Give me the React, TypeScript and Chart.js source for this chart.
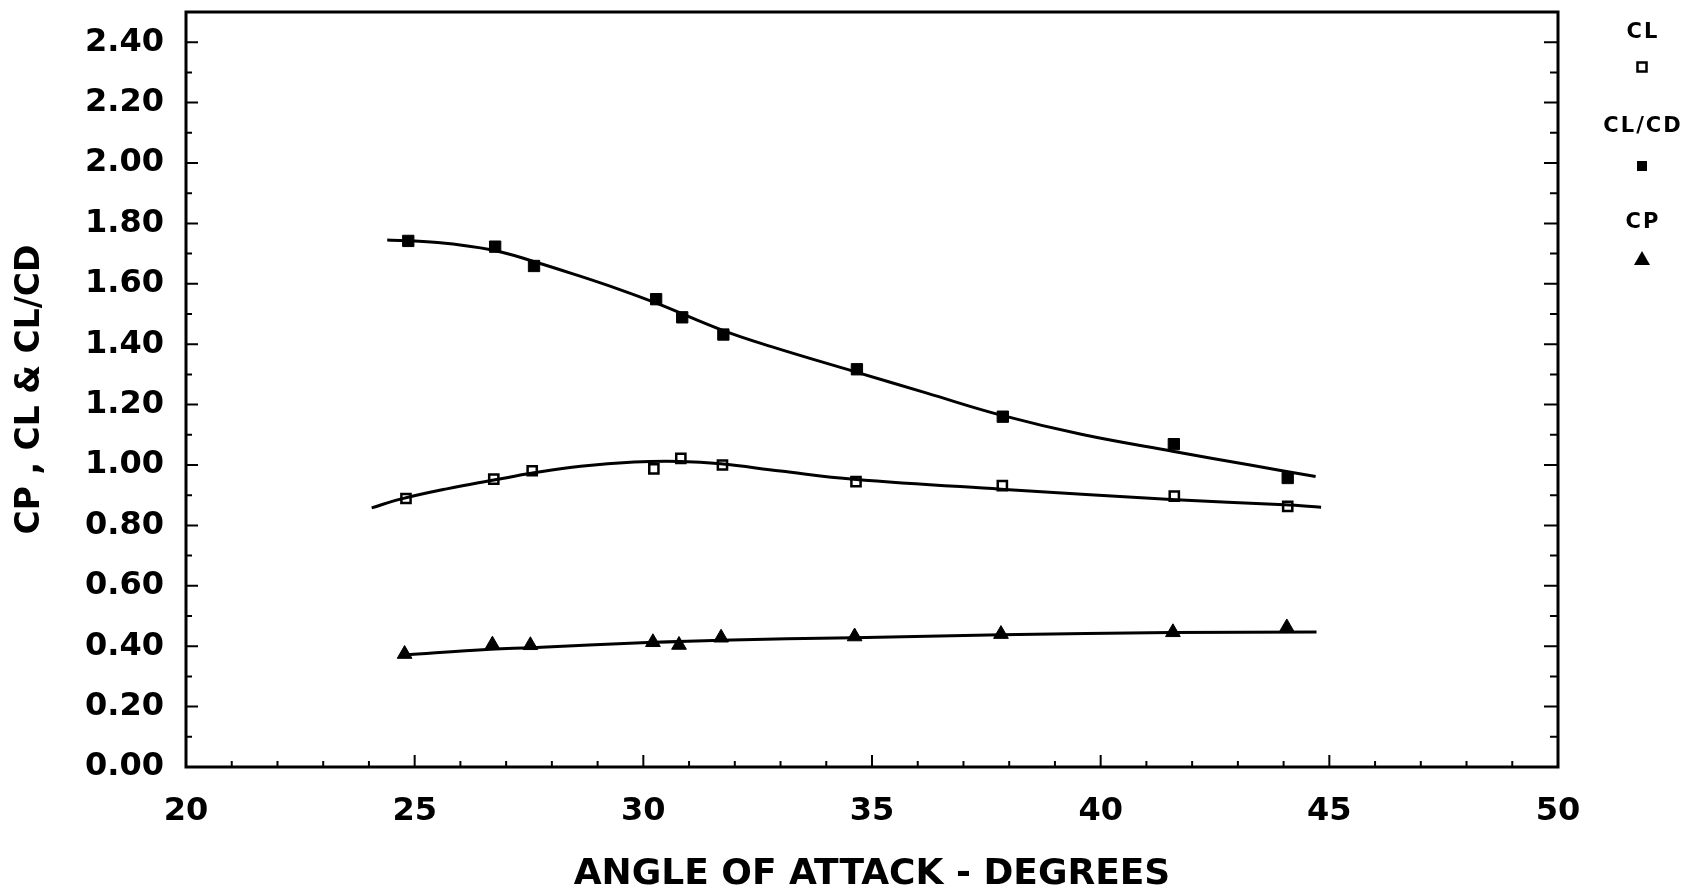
import React, { useEffect, useRef } from 'react';
import { Chart, registerables } from 'chart.js';

Chart.register(...registerables);

// ---- axis definitions ----
const X_MIN = 20;
const X_MAX = 50;
const X_STEP = 5;
const X_MINOR = 1;
const Y_MIN = 0;
const Y_MAX = 2.5;
const Y_STEP = 0.2;
const Y_MINOR = 0.1;

const X_TITLE = 'ANGLE OF ATTACK - DEGREES';
const Y_TITLE = 'CP , CL & CL/CD';
const SERIES_NAMES = ['CL', 'CL/CD', 'CP'];

// ---- measured points ----
const clAngle = [24.81, 26.73, 27.57, 30.23, 30.82, 31.73, 34.65, 37.85, 41.61, 44.09];
const clValue = [0.889, 0.953, 0.981, 0.987, 1.022, 1.0, 0.945, 0.932, 0.897, 0.863];

const clcdAngle = [24.86, 26.76, 27.61, 30.28, 30.85, 31.75, 34.67, 37.86, 41.6, 44.09];
const clcdValue = [1.742, 1.723, 1.659, 1.549, 1.489, 1.432, 1.317, 1.16, 1.069, 0.957];

const cpAngle = [24.78, 26.7, 27.53, 30.21, 30.78, 31.7, 34.62, 37.82, 41.58, 44.07];
const cpValue = [0.374, 0.405, 0.403, 0.413, 0.404, 0.428, 0.432, 0.44, 0.446, 0.462];

// ---- faired curves ----
const clFitAngle = [24.06, 24.69, 25.7, 26.73, 27.61, 28.63, 29.8, 30.82, 31.69, 33.0, 34.6, 37.82, 41.54, 44.02, 44.82];
const clFitValue = [0.858, 0.887, 0.921, 0.95, 0.974, 0.996, 1.01, 1.012, 1.004, 0.98, 0.953, 0.92, 0.886, 0.868, 0.86];

const clcdFitAngle = [24.4, 25.5, 26.7, 27.6, 28.6, 29.5, 30.3, 31.75, 32.8, 34.6, 36.2, 37.8, 39.6, 41.6, 43.3, 44.7];
const clcdFitValue = [1.745, 1.737, 1.712, 1.674, 1.626, 1.58, 1.535, 1.445, 1.392, 1.31, 1.238, 1.166, 1.101, 1.045, 0.999, 0.962];

const cpFitAngle = [24.76, 26.66, 27.54, 30.09, 31.69, 34.6, 37.82, 41.54, 44.72];
const cpFitValue = [0.371, 0.39, 0.395, 0.412, 0.42, 0.428, 0.438, 0.445, 0.447];

const FONT = "'DejaVu Sans', 'Liberation Sans', sans-serif";

const pts = (xs: number[], ys: number[]) => xs.map((x, i) => ({ x, y: ys[i] }));

const framePlugin = {
  id: 'frameTicks',
  afterDatasetsDraw(chart: any) {
    const { ctx, chartArea: a, scales } = chart;
    const xs = scales.x;
    const ys = scales.y;
    ctx.save();
    ctx.strokeStyle = '#000';
    ctx.lineCap = 'butt';
    ctx.lineWidth = 2;
    const nx = Math.round((X_MAX - X_MIN) / X_MINOR);
    const per = Math.round(X_STEP / X_MINOR);
    for (let i = 1; i < nx; i++) {
      const px = xs.getPixelForValue(X_MIN + i * X_MINOR);
      const len = i % per === 0 ? 12 : 6;
      ctx.beginPath();
      ctx.moveTo(px, a.bottom);
      ctx.lineTo(px, a.bottom - len);
      ctx.stroke();
    }
    const ny = Math.round((Y_MAX - Y_MIN) / Y_MINOR);
    const pery = Math.round(Y_STEP / Y_MINOR);
    for (let i = 1; i < ny; i++) {
      const py = ys.getPixelForValue(Y_MIN + i * Y_MINOR);
      const major = i % pery === 0;
      ctx.beginPath();
      ctx.moveTo(a.left, py);
      ctx.lineTo(a.left + (major ? 12 : 6), py);
      ctx.moveTo(a.right, py);
      ctx.lineTo(a.right - (major ? 14 : 8), py);
      ctx.stroke();
    }
    ctx.lineWidth = 3;
    ctx.strokeRect(a.left, a.top, a.right - a.left, a.bottom - a.top);
    ctx.restore();
  },
  afterDraw(chart: any) {
    const { ctx } = chart;
    ctx.save();
    ctx.fillStyle = '#000';
    ctx.strokeStyle = '#000';
    ctx.font = `bold 21px ${FONT}`;
    try {
      (ctx as any).letterSpacing = '2px';
    } catch (e) {
      /* ignore */
    }
    ctx.textAlign = 'center';
    ctx.textBaseline = 'middle';
    const cx = 1642;
    const textY = [33, 127, 223];
    const markY = [67, 166, 259];
    SERIES_NAMES.forEach((name, i) => {
      ctx.fillText(name, cx + 1, textY[i]);
    });
    // CL: open square
    ctx.lineWidth = 2.5;
    ctx.strokeRect(cx - 4.5, markY[0] - 4.5, 9, 9);
    // CL/CD: filled square
    ctx.fillRect(cx - 5, markY[1] - 5, 10, 10);
    // CP: filled triangle
    ctx.beginPath();
    ctx.moveTo(cx, markY[2] - 8);
    ctx.lineTo(cx + 8, markY[2] + 6);
    ctx.lineTo(cx - 8, markY[2] + 6);
    ctx.closePath();
    ctx.fill();
    ctx.restore();
  },
};

export default function App() {
  const ref = useRef<HTMLCanvasElement | null>(null);

  useEffect(() => {
    if (!ref.current) return;
    const curve = (data: any[]) => ({
      data,
      showLine: true,
      borderColor: '#000',
      borderWidth: 3,
      pointRadius: 0,
      pointHoverRadius: 0,
      tension: 0.4,
      cubicInterpolationMode: 'default' as const,
      fill: false,
    });
    const chart = new Chart(ref.current, {
      type: 'scatter',
      data: {
        datasets: [
          { label: 'CL fit', ...curve(pts(clFitAngle, clFitValue)) },
          { label: 'CL/CD fit', ...curve(pts(clcdFitAngle, clcdFitValue)) },
          { label: 'CP fit', ...curve(pts(cpFitAngle, cpFitValue)) },
          {
            label: SERIES_NAMES[0],
            data: pts(clAngle, clValue),
            pointStyle: 'rect',
            pointRadius: 6.5,
            backgroundColor: '#fff',
            borderColor: '#000',
            borderWidth: 2.5,
          },
          {
            label: SERIES_NAMES[1],
            data: pts(clcdAngle, clcdValue),
            pointStyle: 'rect',
            pointRadius: 8,
            backgroundColor: '#000',
            borderColor: '#000',
            borderWidth: 1,
          },
          {
            label: SERIES_NAMES[2],
            data: pts(cpAngle, cpValue),
            pointStyle: 'triangle',
            pointRadius: 8.5,
            backgroundColor: '#000',
            borderColor: '#000',
            borderWidth: 1,
          },
        ],
      },
      options: {
        animation: false,
        responsive: false,
        layout: { padding: { left: 0, right: 134, top: 12, bottom: 0 } },
        plugins: { legend: { display: false }, tooltip: { enabled: false } },
        scales: {
          x: {
            type: 'linear',
            min: X_MIN,
            max: X_MAX,
            afterFit: (s: any) => {
              s.height = 126;
            },
            ticks: {
              stepSize: X_STEP,
              color: '#000',
              padding: 25,
              maxRotation: 0,
              font: { family: FONT, size: 32, weight: 'bold' },
              callback: (v: any) => String(v),
            },
            grid: { display: false, drawTicks: false },
            border: { display: false },
            title: {
              display: true,
              text: X_TITLE,
              color: '#000',
              font: { family: FONT, size: 36, weight: 'bold', lineHeight: 1.0 },
              padding: { top: 0, bottom: 0 },
            },
          },
          y: {
            type: 'linear',
            min: Y_MIN,
            max: Y_MAX,
            afterFit: (s: any) => {
              s.width = 186;
              s.paddingTop = 0;
              s.paddingBottom = 0;
            },
            ticks: {
              stepSize: Y_STEP,
              includeBounds: false,
              color: '#000',
              padding: 22,
              font: { family: FONT, size: 32, weight: 'bold' },
              callback: (v: any) => Number(v).toFixed(2),
            },
            grid: { display: false, drawTicks: false },
            border: { display: false },
            title: {
              display: true,
              text: Y_TITLE,
              color: '#000',
              font: { family: FONT, size: 33, weight: 'bold' },
              padding: { top: 11, bottom: 0 },
            },
          },
        },
      },
      plugins: [framePlugin],
    } as any);
    return () => chart.destroy();
  }, []);

  return (
    <div style={{ position: 'absolute', left: 0, top: 0, width: 1692, height: 893, background: '#fff' }}>
      <canvas ref={ref} width={1692} height={893} />
    </div>
  );
}
